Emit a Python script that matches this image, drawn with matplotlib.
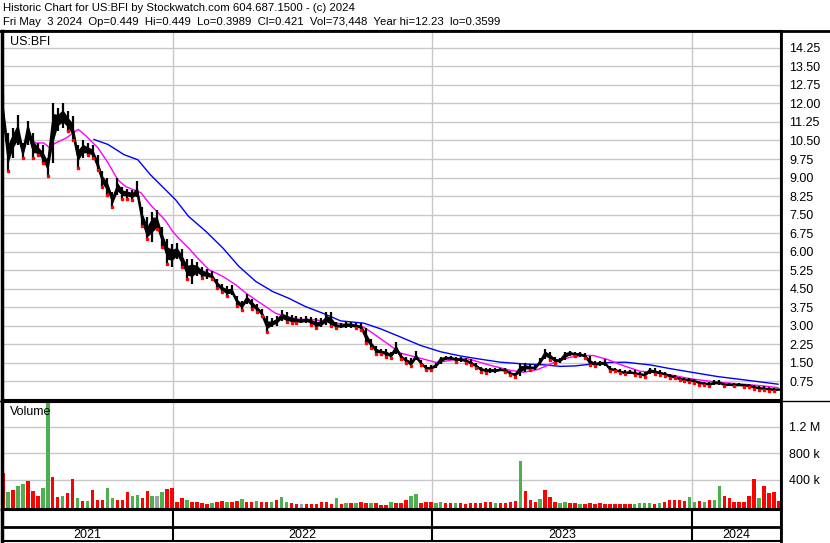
import numpy as np
import pandas as pd
import matplotlib
matplotlib.use("Agg")
import matplotlib.pyplot as plt
from matplotlib.lines import Line2D

plt.rcParams['font.family'] = ['Liberation Sans', 'DejaVu Sans']

# weekly bars, first week ending Fri 2021-05-07, last 2024-05-03
start = pd.Timestamp("2021-05-07")
dates = pd.date_range(start, "2024-05-03", freq="W-FRI")

hi = [12.4, 10.8, 11.0, 11.55, 10.4, 11.3, 10.8, 10.4, 10.3, 9.8,
      12.0, 11.8, 12.0, 11.7, 11.5, 10.3, 10.5, 10.4, 10.3, 9.9,
      9.25, 9.0, 8.4, 9.0, 8.6, 8.55, 8.5, 8.85, 7.8, 7.4,
      7.6, 7.7, 7.0, 6.5, 6.3, 6.35, 6.1, 5.7, 5.7, 5.6,
      5.4, 5.3, 5.2, 4.9, 4.7, 4.6, 4.65, 4.2, 4.0, 4.3,
      4.1, 3.9, 3.7, 3.4, 3.3, 3.4, 3.65, 3.55, 3.45, 3.4,
      3.35, 3.4, 3.35, 3.3, 3.3, 3.55, 3.55, 3.15, 3.1, 3.15,
      3.15, 3.1, 3.1, 2.9, 2.45, 2.2, 2.05, 2.05, 1.95, 2.35,
      1.9, 1.75, 1.7, 2.0, 1.6, 1.4, 1.4, 1.5, 1.75, 1.8,
      1.8, 1.75, 1.72, 1.7, 1.65, 1.5, 1.35, 1.3, 1.3, 1.3,
      1.3, 1.28, 1.16, 1.1, 1.45, 1.5, 1.45, 1.4, 1.7, 2.05,
      1.95, 1.75, 1.7, 1.95, 1.98, 1.95, 1.95, 1.9, 1.77, 1.57,
      1.57, 1.64, 1.36, 1.3, 1.25, 1.2, 1.23, 1.2, 1.12, 1.15,
      1.3, 1.28, 1.2, 1.12, 1.05, 1.0, 0.93, 0.88, 0.88, 0.85,
      0.76, 0.74, 0.72, 0.8, 0.82, 0.68, 0.67, 0.67, 0.68, 0.66,
      0.66, 0.6, 0.58, 0.55, 0.52, 0.5, 0.449]

lo = [11.4, 9.25, 9.8, 10.3, 9.8, 10.3, 9.8, 9.9, 9.6, 9.05,
      9.6, 10.9, 11.0, 10.9, 10.5, 9.4, 9.8, 9.9, 9.8, 9.3,
      8.6, 8.3, 7.8, 8.3, 8.15, 8.15, 8.1, 8.2, 7.05, 6.5,
      6.4, 6.9, 6.2, 5.5, 5.4, 5.7, 5.4, 4.9, 4.7, 5.0,
      4.95, 4.9, 4.9, 4.55, 4.35, 4.2, 4.25, 3.8, 3.65, 3.9,
      3.7, 3.55, 3.4, 2.75, 2.95, 3.0, 3.2, 3.15, 3.1, 3.1,
      3.1, 3.1, 3.05, 2.9, 2.95, 3.05, 3.0, 2.9, 2.9, 2.9,
      2.9, 2.9, 2.85, 2.3, 2.1, 1.85, 1.85, 1.75, 1.7, 1.85,
      1.65, 1.5, 1.37, 1.6, 1.4, 1.22, 1.21, 1.28, 1.45, 1.6,
      1.6, 1.55, 1.55, 1.5, 1.42, 1.3, 1.15, 1.1, 1.09, 1.1,
      1.16, 1.15, 1.0, 0.95, 0.98, 1.15, 1.23, 1.23, 1.43, 1.65,
      1.6, 1.5, 1.5, 1.6, 1.78, 1.77, 1.75, 1.7, 1.4, 1.36,
      1.38, 1.38, 1.18, 1.16, 1.1, 1.04, 1.05, 1.02, 0.97, 0.95,
      1.05, 1.05, 1.02, 0.98, 0.9, 0.87, 0.8, 0.76, 0.72, 0.7,
      0.62, 0.6, 0.56, 0.6, 0.62, 0.56, 0.56, 0.55, 0.55, 0.53,
      0.52, 0.45, 0.42, 0.4, 0.38, 0.37, 0.399]

close = [11.6, 9.9, 10.6, 10.8, 10.0, 11.0, 10.2, 10.1, 9.8, 9.5,
         11.2, 11.3, 11.5, 11.2, 10.9, 9.9, 10.2, 10.1, 10.0, 9.5,
         8.9, 8.6, 8.1, 8.6, 8.4, 8.35, 8.3, 8.4, 7.3, 6.7,
         7.2, 7.1, 6.5, 5.9, 5.9, 6.0, 5.6, 5.2, 5.3, 5.3,
         5.1, 5.1, 5.0, 4.7, 4.5, 4.4, 4.4, 4.0, 3.8, 4.1,
         3.9, 3.7, 3.5, 3.0, 3.1, 3.2, 3.4, 3.3, 3.25, 3.2,
         3.2, 3.25, 3.15, 3.05, 3.1, 3.3, 3.1, 3.0, 3.0, 3.05,
         3.05, 3.0, 2.95, 2.5, 2.25, 2.0, 1.95, 1.9, 1.8, 2.1,
         1.75, 1.6, 1.45, 1.75, 1.5, 1.3, 1.28, 1.4, 1.65, 1.7,
         1.7, 1.65, 1.65, 1.6, 1.5, 1.4, 1.25, 1.2, 1.2, 1.2,
         1.22, 1.2, 1.08, 1.02, 1.3, 1.35, 1.3, 1.3, 1.55, 1.9,
         1.75, 1.6, 1.6, 1.85, 1.9, 1.85, 1.85, 1.78, 1.5, 1.45,
         1.5, 1.5, 1.25, 1.22, 1.15, 1.1, 1.12, 1.08, 1.05, 1.0,
         1.2, 1.15, 1.1, 1.05, 0.98, 0.92, 0.86, 0.82, 0.8, 0.77,
         0.7, 0.67, 0.64, 0.7, 0.7, 0.62, 0.62, 0.6, 0.61, 0.6,
         0.58, 0.52, 0.48, 0.46, 0.44, 0.42, 0.421]

# volume in thousands, r = down, g = up, x = unchanged
vol_k = [500, 220, 250, 300, 330, 380, 230, 150, 280, 1700,
         450, 140, 150, 200, 420, 120, 80, 80, 250, 100,
         100, 280, 130, 100, 90, 220, 150, 170, 120, 230,
         150, 160, 220, 260, 280, 60, 130, 90, 60, 70,
         50, 40, 50, 60, 80, 60, 70, 80, 110, 60,
         70, 80, 60, 70, 60, 90, 140, 70, 45, 35,
         35, 30, 35, 30, 70, 70, 35, 130, 35, 45,
         45, 45, 60, 45, 45, 45, 25, 25, 60, 45,
         45, 90, 150, 180, 50, 60, 60, 55, 60, 45,
         50, 45, 45, 40, 50, 45, 55, 60, 65, 55,
         50, 45, 70, 80, 690, 230, 90, 70, 110, 250,
         140, 60, 50, 60, 55, 45, 40, 40, 45, 40,
         45, 35, 35, 35, 40, 35, 30, 30, 55, 45,
         50, 40, 50, 70, 90, 100, 90, 80, 140, 70,
         80, 60, 90, 100, 300, 150, 120, 60, 60, 60,
         150, 420, 120, 310, 200, 210, 75]
vol_dir = ("rgrggrrrgg" "rrgrrgrgrr" "rggrrrggrr" "gxgrrrrgrr" "rrgrrgrrgr"
           "rgrrgrggrr" "xrrrrrrgrg" "rgrrgrrrgr" "rrggrrrggr" "rgrrrrrrrg"
           "rrrrgrrrgr" "rrggrrgrrr" "rrrrrrrggg" "grgrrrrrgg" "rgrggrrrrr"
           "rrgrrrr")

# moving averages (week number, price)
ma_short_wk = [5.2, 6.6, 8.2, 9.2, 10.6, 12.7, 15.1, 16.7, 19.1, 21.1,
               23.1, 24.7, 27.7, 29.7, 31.7, 32.7, 34.1, 35.3, 37.3, 39.4,
               41.4, 44.2, 46.8, 48.8, 50.8, 52.8, 54.8, 56.8, 59.4, 62.9,
               65.9, 69.3, 72.5, 74.5, 77.3, 79.9, 83.3, 87.3, 90.6, 93.4,
               96.0, 98.0, 100.0, 102.0, 104.6, 107.4, 109.4, 111.4, 114.0, 116.7,
               118.7, 121.5, 124.7, 128.1, 130.1, 134.1, 138.2, 143.6, 148.8, 152.8,
               155.8]
ma_short = [10.6, 10.4, 10.4, 10.23, 10.4, 10.6, 10.95, 10.68, 10.2, 9.6,
            8.9, 8.63, 8.39, 7.88, 7.47, 7.25, 6.82, 6.55, 6.15, 5.68,
            5.27, 5.0, 4.66, 4.33, 4.05, 3.78, 3.51, 3.38, 3.27, 3.24,
            3.14, 3.05, 2.95, 2.68, 2.28, 1.9, 1.72, 1.51, 1.63, 1.67,
            1.52, 1.4, 1.3, 1.2, 1.12, 1.23, 1.39, 1.57, 1.73, 1.8,
            1.8, 1.64, 1.39, 1.16, 1.14, 1.02, 0.86, 0.72, 0.64, 0.57,
            0.5]
ma_long_wk = [18.3, 21.1, 24.3, 27.1, 29.7, 32.7, 34.7, 37.3, 40.8, 44.2,
              47.4, 50.8, 54.2, 57.4, 60.8, 64.3, 67.9, 72.5, 75.9, 79.9,
              83.9, 88.0, 92.0, 96.0, 100.0, 104.6, 109.0, 112.0, 115.1, 118.1,
              122.1, 125.1, 130.1, 134.1, 138.2, 143.6, 148.8, 155.8]
ma_long = [10.54, 10.34, 9.93, 9.72, 9.1, 8.5, 8.1, 7.43, 6.82, 6.15,
           5.41, 4.8, 4.39, 4.12, 3.78, 3.51, 3.2, 3.11, 2.88, 2.55,
           2.21, 1.95, 1.78, 1.65, 1.53, 1.46, 1.42, 1.36, 1.38, 1.45,
           1.52, 1.53, 1.42, 1.27, 1.13, 0.95, 0.82, 0.64]

price_ticks = [0.75 * k for k in range(1, 20)]
vol_ticks = [400, 800, 1200]
vol_tick_labels = ["400 k", "800 k", "1.2 M"]
years = ["2021", "2022", "2023", "2024"]

header1 = "Historic Chart for US:BFI by Stockwatch.com 604.687.1500 - (c) 2024"
header2 = "Fri May  3 2024  Op=0.449  Hi=0.449  Lo=0.3989  Cl=0.421  Vol=73,448  Year hi=12.23  lo=0.3599"

x = np.arange(len(dates))
hi = np.array(hi); lo = np.array(lo); close = np.array(close)
vol = np.array(vol_k) * 1000.0


def week_of(d):
    return (pd.Timestamp(d) - start).days / 7.0


year_edges = [week_of(f"{y}-01-01") for y in years[1:]]
xmin, xmax = -0.2, 156.4

W, H = 830, 543
fig = plt.figure(figsize=(W / 100, H / 100), dpi=100)


def box(l, t, r, b):
    return fig.add_axes([l / W, 1 - b / H, (r - l) / W, (b - t) / H])


ax_p = box(2, 31, 781, 400)
ax_v = box(2, 402, 781, 509)
ax_x = box(2, 510, 781, 541)

grid_c = "#c8c8c8"
for ax in (ax_p, ax_v, ax_x):
    ax.set_xlim(xmin, xmax)
    for s in ax.spines.values():
        s.set_color("black")
        s.set_linewidth(1.5)
    ax.spines["left"].set_linewidth(2.5)
    ax.set_xticks([])

# price panel
for p in price_ticks:
    ax_p.axhline(p, color=grid_c, lw=1, zorder=0)
for e in year_edges:
    ax_p.axvline(e, color=grid_c, lw=1, zorder=0)
    ax_v.axvline(e, color=grid_c, lw=1, zorder=0)

ax_p.plot(ma_long_wk, ma_long, color="#0000ff", lw=1, zorder=2)
ax_p.plot(ma_short_wk, ma_short, color="#ff00ff", lw=1, zorder=2)
mid_lo = (lo + close) / 2
mid_hi = (hi + close) / 2
ax_p.fill_between(x, mid_lo, mid_hi, color="black", lw=0, zorder=3)
ax_p.vlines(x, lo, hi, color="black", lw=1.6, zorder=3)
ax_p.plot(x, close, color="black", lw=1.6, zorder=3)
down = np.r_[False, close[1:] < close[:-1]]
ax_p.plot(x[down], lo[down], ls="none", marker="s", ms=1.6, color="red", mec="red", zorder=4)

ax_p.set_ylim(0, 14.93)
ax_p.set_yticks(price_ticks)
ax_p.set_yticklabels([f"{p:.2f}" for p in price_ticks])
ax_p.yaxis.tick_right()
ax_p.tick_params(axis="y", length=0, pad=6, labelsize=9)
ax_p.text(8 / 779, 1 - 11 / 369, "US:BFI", transform=ax_p.transAxes, fontsize=9, va="center", ha="left")

# volume panel
for v in vol_ticks:
    ax_v.axhline(v * 1000, color=grid_c, lw=1, zorder=0)
vbase = -40e3
cmap = {"r": "#ff0000", "g": "#4caf50", "x": "#a0a0a0"}
ax_v.bar(x, vol - vbase, bottom=vbase, width=0.7, color=[cmap[c] for c in vol_dir], lw=0, zorder=2)
ax_v.set_ylim(vbase, 1.575e6)
ax_v.set_yticks([v * 1000 for v in vol_ticks])
ax_v.set_yticklabels(vol_tick_labels)
ax_v.yaxis.tick_right()
ax_v.tick_params(axis="y", length=0, pad=6, labelsize=9)
ax_v.text(8 / 779, 1 - 10 / 107, "Volume", transform=ax_v.transAxes, fontsize=9, va="center", ha="left")

# year strip
ax_x.set_ylim(0, 1)
ax_x.set_yticks([])
ax_x.axhline(1 - 17 / 31, color="black", lw=2)
for e in year_edges:
    ax_x.axvline(e, color="black", lw=1.5)
edges = [xmin] + year_edges + [xmax]
for i, y in enumerate(years):
    ax_x.text((edges[i] + edges[i + 1]) / 2, 0.18, y, ha="center", va="center", fontsize=9)

# header and outer frame lines
fig.text(3 / W, 1 - 8 / H, header1, fontsize=8.2, va="center", ha="left")
fig.text(3 / W, 1 - 22 / H, header2, fontsize=8.2, va="center", ha="left")
fig.add_artist(Line2D([0, 1], [1 - 31 / H] * 2, transform=fig.transFigure, color="black", lw=2))
fig.add_artist(Line2D([0, 1], [1 - 401 / H] * 2, transform=fig.transFigure, color="black", lw=1))
fig.add_artist(Line2D([781 / W] * 2, [1 - 31 / H, 0], transform=fig.transFigure, color="black", lw=2))

fig.savefig("out.png", dpi=100, facecolor="white")
